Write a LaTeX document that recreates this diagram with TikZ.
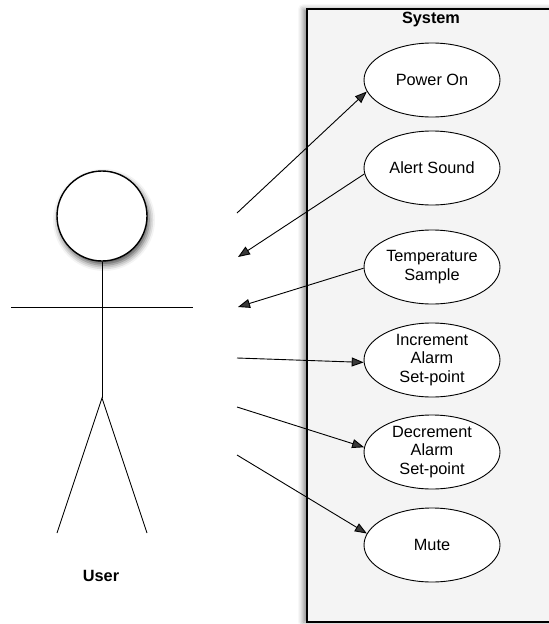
\documentclass[tikz,border=0pt]{standalone}
\usepackage{fontspec}
\setmainfont{Liberation Sans}
\usetikzlibrary{arrows.meta,shapes.geometric,shadows.blur}
\definecolor{sysgray}{HTML}{F4F4F4}
\tikzset{
  usecase/.style={ellipse, draw=black, line width=0.9pt, fill=white, minimum width=136pt, minimum height=74pt, inner sep=0pt, align=center, font=\fontsize{16.3}{18.5}\selectfont},
  sysbox/.style={draw=black, line width=1.3pt, fill=sysgray, blur shadow={shadow xshift=-4pt, shadow yshift=0pt, shadow blur radius=5pt, shadow opacity=45}},
  limb/.style={line width=0.9pt},
  conn/.style={line width=0.9pt, -{Triangle[length=12pt,width=9pt]}},
  title/.style={font=\bfseries\fontsize{16.3}{19}\selectfont, inner sep=0pt}
}
\begin{document}
\begin{tikzpicture}[x=1pt,y=-1pt]
\useasboundingbox (0,0) rectangle (549,624);
% system boundary
\path[sysbox] (307,9) rectangle (560,622);
\node[title] (systitle) at (431,19) {System};
% use cases
\node[usecase] (pw) at (432,80) {Power On};
\node[usecase] (as) at (432,168) {Alert Sound};
\node[usecase] (ts) at (432,267) {Temperature\\Sample};
\node[usecase] (inc) at (432,360) {Increment\\Alarm\\Set-point};
\node[usecase] (dec) at (432,452) {Decrement\\Alarm\\Set-point};
\node[usecase] (mu) at (432,545) {Mute};
% actor
\node[circle, draw=black, line width=1.4pt, fill=white, minimum size=90pt, inner sep=0pt,
      blur shadow={shadow xshift=2pt, shadow yshift=-4pt, shadow blur radius=6pt, shadow opacity=70}] (head) at (102,216) {};
\coordinate (hip) at (102,398);
\coordinate (larm) at (11,307);
\coordinate (rarm) at (193,307);
\coordinate (lfoot) at (57,533);
\coordinate (rfoot) at (147,533);
\draw[limb] (head.south) -- (hip);
\draw[limb] (larm) -- (rarm);
\draw[limb] (lfoot) -- (hip) -- (rfoot);
\node[title] (user) at (101,576) {User};
% free ends of connectors
\coordinate (a1) at (237,213);
\coordinate (a2) at (238,257);
\coordinate (a3) at (238,307);
\coordinate (a4) at (237,358);
\coordinate (a5) at (237,407);
\coordinate (a6) at (237,455);
% connectors
\draw[conn] (a1) -- (pw.190);
\draw[conn] (as.185) -- (a2);
\draw[conn] (ts.181) -- (a3);
\draw[conn] (a4) -- (inc.182);
\draw[conn] (a5) -- (dec.176);
\draw[conn] (a6) -- (mu.170);
\end{tikzpicture}
\end{document}
